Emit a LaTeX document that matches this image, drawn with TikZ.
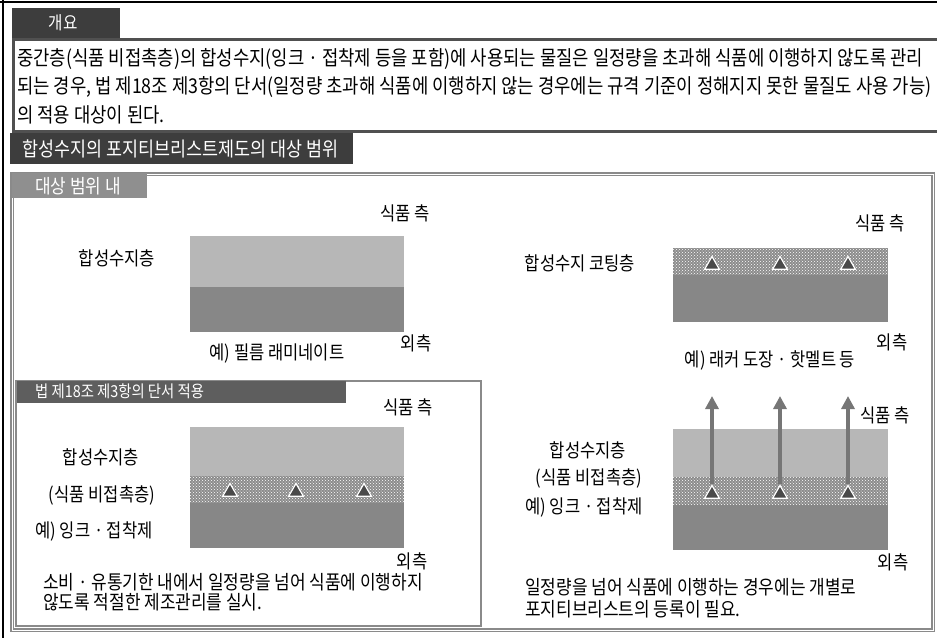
\documentclass[tikz,border=0pt]{standalone}
\usepackage{fontspec}
\setmainfont{Noto Sans CJK KR}[FakeStretch=0.87]
\usetikzlibrary{arrows.meta,patterns,shapes.geometric}
\definecolor{tabdark}{HTML}{3D3D3D}
\definecolor{tabmid}{HTML}{8F8F8F}
\definecolor{tablaw}{HTML}{5E5E5E}
\definecolor{boxline}{HTML}{8A8A8A}
\definecolor{layerlight}{HTML}{B7B7B7}
\definecolor{layerdark}{HTML}{878787}
\definecolor{arrowgray}{HTML}{767676}
\definecolor{trifill}{HTML}{4A4A4A}
\definecolor{coatbase}{HTML}{8C8C8C}
\begin{document}
\begin{tikzpicture}[x=1pt,y=-1pt,
  bodytxt/.style={font=\fontsize{20.4}{26}\selectfont, inner sep=0pt},
  lbl/.style={font=\fontsize{19}{22}\selectfont, inner sep=0pt},
  small/.style={font=\fontsize{19.5}{22}\selectfont, inner sep=0pt},
  tabtxt/.style={text=white, inner sep=0pt},
  tri/.style={regular polygon, regular polygon sides=3, minimum size=17pt, inner sep=0pt, fill=trifill, draw=white, line width=1.2pt},
  migr/.style={draw=arrowgray, line width=4pt, -{Triangle[width=13pt,length=13pt]}},
  coat/.style={pattern=crosshatch dots, pattern color=white},
]
\useasboundingbox (0,0) rectangle (937,638);
\clip (0,0) rectangle (937,638);
% frame
\draw[black, line width=1.2pt] (0,2) -- (937,2);
\draw[black, line width=1.2pt] (3,0) -- (3,638);

% overview
\fill[tabdark] (12,8) rectangle (120,38);
\node[tabtxt, font=\fontsize{18}{20}\selectfont] (t1) at (63,23) {개요};
\draw[tabdark!90, line width=3pt] (940,39) -- (13,39) -- (13,131) -- (940,131);
\node[bodytxt, anchor=west] (body1) at (17,59) {중간층(식품 비접촉층)의 합성수지(잉크 · 접착제 등을 포함)에 사용되는 물질은 일정량을 초과해 식품에 이행하지 않도록 관리};
\node[bodytxt, anchor=west] (body2) at (17,87) {되는 경우, 법 제18조 제3항의 단서(일정량 초과해 식품에 이행하지 않는 경우에는 규격 기준이 정해지지 못한 물질도 사용 가능)};
\node[bodytxt, anchor=west] (body3) at (17,115) {의 적용 대상이 된다.};

% scope tab
\fill[tabdark] (10,133) rectangle (353,164);
\node[tabtxt, anchor=west, font=\fontsize{20}{22}\selectfont] (t2) at (22,149) {합성수지의 포지티브리스트제도의 대상 범위};

% outer gray box
\draw[boxline, line width=1.2pt, double=white, double distance=1pt] (12,174) rectangle (933,630);
\fill[tabmid] (12,173) rectangle (147,198);
\node[tabtxt, font=\fontsize{19.5}{21}\selectfont] (t3) at (78,186) {대상 범위 내};

% top-left diagram
\fill[layerlight] (190,236) rectangle (404,287);
\fill[layerdark] (190,287) rectangle (404,332);
\node[lbl] (tlfood) at (405,213) {식품 측};
\node[lbl] (tlres) at (117,258) {합성수지층};
\node[lbl] (tlout) at (416,343) {외측};
\node[lbl] (tlex) at (277,353) {예) 필름 래미네이트};

% top-right diagram
\fill[coatbase] (673,248) rectangle (888,275);
\fill[coat] (673,248) rectangle (888,275);
\fill[layerdark] (673,275) rectangle (888,322);
\node[tri] (tr1) at (712,265) {};
\node[tri] (tr2) at (780,265) {};
\node[tri] (tr3) at (848,265) {};
\node[lbl] (trfood) at (880,223) {식품 측};
\node[lbl] (trres) at (580,263) {합성수지 코팅층};
\node[lbl] (trout) at (892,342) {외측};
\node[lbl] (trex) at (770,360) {예) 래커 도장 · 핫멜트 등};

% inner box (law)
\draw[boxline, line width=2.5pt] (16,381) rectangle (481,626);
\fill[tablaw] (17,381) rectangle (346,403);
\node[tabtxt, anchor=west, font=\fontsize{16.5}{18}\selectfont] (t4) at (35,391) {법 제18조 제3항의 단서 적용};

% bottom-left diagram
\fill[layerlight] (190,427) rectangle (404,476);
\fill[coatbase] (190,476) rectangle (404,503);
\fill[coat] (190,476) rectangle (404,503);
\fill[layerdark] (190,503) rectangle (404,548);
\node[tri] (bl1) at (230,492) {};
\node[tri] (bl2) at (296,492) {};
\node[tri] (bl3) at (364,492) {};
\node[lbl] (blfood) at (408,407) {식품 측};
\node[lbl] (blres) at (101,457) {합성수지층};
\node[lbl] (blnc) at (102,495) {(식품 비접촉층)};
\node[lbl] (blex) at (94,531) {예) 잉크 · 접착제};
\node[lbl] (blout) at (412,561) {외측};
\node[small, anchor=west] (blnote1) at (43,582) {소비 · 유통기한 내에서 일정량을 넘어 식품에 이행하지};
\node[small, anchor=west] (blnote2) at (43,602) {않도록 적절한 제조관리를 실시.};

% bottom-right diagram
\fill[layerlight] (673,429) rectangle (888,477);
\fill[coatbase] (673,477) rectangle (888,505);
\fill[coat] (673,477) rectangle (888,505);
\fill[layerdark] (673,505) rectangle (888,550);
\node[tri] (br1) at (712,494) {};
\node[tri] (br2) at (780,494) {};
\node[tri] (br3) at (848,494) {};
\coordinate (up1) at (712,396);
\coordinate (up2) at (780,396);
\coordinate (up3) at (848,396);
\draw[migr] (br1.north) -- (up1);
\draw[migr] (br2.north) -- (up2);
\draw[migr] (br3.north) -- (up3);
\node[lbl] (brfood) at (885,415) {식품 측};
\node[lbl] (brres) at (588,450) {합성수지층};
\node[lbl] (brnc) at (589,478) {(식품 비접촉층)};
\node[lbl] (brex) at (584,507) {예) 잉크 · 접착제};
\node[lbl] (brout) at (893,562) {외측};
\node[small, anchor=west] (brnote1) at (525,587) {일정량을 넘어 식품에 이행하는 경우에는 개별로};
\node[small, anchor=west] (brnote2) at (525,609) {포지티브리스트의 등록이 필요.};
\end{tikzpicture}
\end{document}
